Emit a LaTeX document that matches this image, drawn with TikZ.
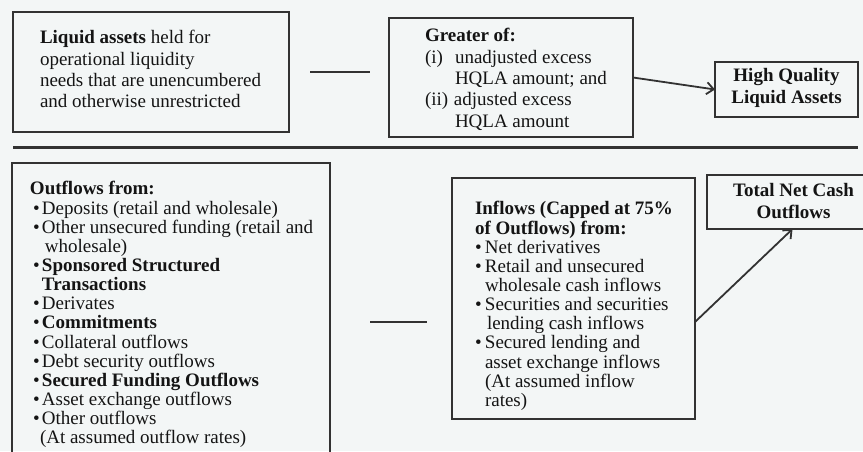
\documentclass[tikz,border=0pt]{standalone}
\usepackage{fontspec}
\setmainfont{Liberation Serif}
\usetikzlibrary{arrows.meta}
\definecolor{bgc}{RGB}{243,246,246}
\definecolor{ln}{RGB}{50,50,50}
\definecolor{tx}{RGB}{20,20,20}
\newcommand{\bulA}{\makebox[9pt][l]{•}}
\newcommand{\bulB}{\makebox[10pt][l]{•}}
\tikzset{
  box/.style={draw=ln, line width=1.8pt, anchor=north west, inner sep=0pt, outer sep=0pt},
  txt/.style={anchor=north west, inner sep=0pt, outer sep=0pt, align=left, text=tx},
  big/.style={font=\fontsize{19}{21.3}\selectfont},
  small/.style={font=\fontsize{19}{19.15}\selectfont},
  minus/.style={draw=ln, line width=2.6pt},
  arr/.style={draw=ln, line width=1.8pt, -{Straight Barb[length=7pt,width=12pt,line width=1.8pt]}},
}
\begin{document}
\begin{tikzpicture}[x=1pt,y=1pt]
\useasboundingbox (0,0) rectangle (863,-451);
\clip (0,0) rectangle (863,-451);
\fill[bgc] (0,0) rectangle (863,-451);

% top row
\node[box, minimum width=276pt, minimum height=120pt] (liq) at (13,-12) {};
\node[txt, big] (liqtext) at (40,-30.5)
  {\textbf{Liquid assets} held for\\operational liquidity\\needs that are unencumbered\\and otherwise unrestricted};

\path[minus] (310,-72) -- (370,-72);

\node[box, minimum width=244pt, minimum height=119pt] (greater) at (389,-18) {};
\node[txt, big] (greatertext) at (425,-28.5)
  {\textbf{Greater of:}\\
   \makebox[30pt][l]{(i)}unadjusted excess\\
   \hspace*{30pt}HQLA amount; and\\
   \makebox[29pt][l]{(ii)}adjusted excess\\
   \hspace*{30pt}HQLA amount};

\node[box, minimum width=143pt, minimum height=55pt] (hqla) at (715,-62) {};
\node[align=center, text=tx, inner sep=0pt, font=\fontsize{19}{21.3}\selectfont\bfseries] (hqlatext) at (786.5,-88)
  {High Quality\\Liquid Assets};

\draw[arr] (greater.east) -- (hqla.west);

% divider
\path[draw=ln, line width=3pt] (13,-147.5) -- (858,-147.5);

% bottom row
\node[box, minimum width=318pt, minimum height=300pt] (out) at (12,-163) {};
\node[txt, small] (outtext) at (30,-181.5)
  {\textbf{Outflows from:}\\
   \hspace*{3pt}\bulA Deposits (retail and wholesale)\\
   \hspace*{3pt}\bulA Other unsecured funding (retail and\\
   \hspace*{15pt}wholesale)\\
   \hspace*{3pt}\bulA\textbf{Sponsored Structured}\\
   \hspace*{12pt}\textbf{Transactions}\\
   \hspace*{3pt}\bulA Derivates\\
   \hspace*{3pt}\bulA\textbf{Commitments}\\
   \hspace*{3pt}\bulA Collateral outflows\\
   \hspace*{3pt}\bulA Debt security outflows\\
   \hspace*{3pt}\bulA\textbf{Secured Funding Outflows}\\
   \hspace*{3pt}\bulA Asset exchange outflows\\
   \hspace*{3pt}\bulA Other outflows\\
   \hspace*{10pt}(At assumed outflow rates)};

\path[minus] (370,-322) -- (427,-322);

\node[box, minimum width=243pt, minimum height=241pt] (in) at (452,-178) {};
\node[txt, small] (intext) at (475,-201.5)
  {\textbf{Inflows (Capped at 75\%}\\
   \textbf{of Outflows) from:}\\
   \bulB Net derivatives\\
   \bulB Retail and unsecured\\
   \hspace*{10pt}wholesale cash inflows\\
   \bulB Securities and securities\\
   \hspace*{12pt}lending cash inflows\\
   \bulB Secured lending and\\
   \hspace*{10pt}asset exchange inflows\\
   \hspace*{10pt}(At assumed inflow\\
   \hspace*{10pt}rates)};

\node[box, minimum width=173pt, minimum height=54pt] (tnco) at (707,-175) {};
\node[align=center, text=tx, inner sep=0pt, font=\fontsize{19}{21.3}\selectfont\bfseries] (tncotext) at (793.5,-201)
  {Total Net Cash\\Outflows};

\draw[arr] ([yshift=-23.5pt]in.east) -- ([xshift=-1pt]tnco.south);
\end{tikzpicture}
\end{document}
